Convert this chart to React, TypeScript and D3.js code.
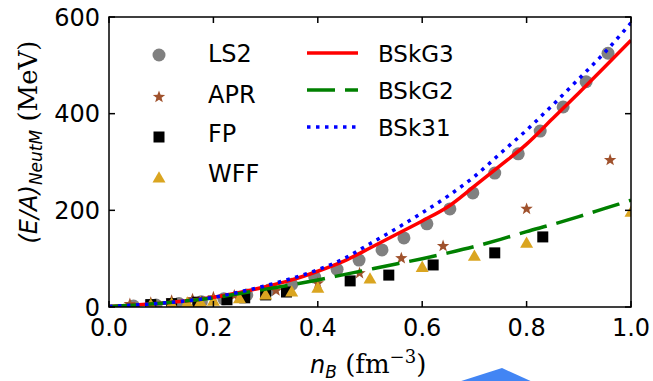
import React from "react";
import * as d3 from "d3";

// ---- data ----
const curveN = [0, 0.05, 0.1, 0.15, 0.2, 0.25, 0.3, 0.35, 0.4, 0.45, 0.5, 0.55, 0.6, 0.65, 0.7, 0.75, 0.8, 0.85, 0.9, 0.95, 1.0];
const bskg3 = [1, 4, 8, 13, 20, 30, 42, 56, 74, 95, 122, 150, 178, 208, 250, 293, 337, 390, 443, 497, 552];
const bskg2 = [1, 4, 8, 13, 19, 28, 37, 46, 56, 67, 78, 89, 100, 112, 125, 140, 156, 171, 187, 204, 221];
const bsk31 = [1, 4, 8, 13, 20, 31, 44, 59, 77, 100, 131, 162, 195, 230, 270, 318, 366, 418, 472, 527, 588];

const ls2N = [0.047, 0.09, 0.134, 0.177, 0.22, 0.264, 0.307, 0.35, 0.394, 0.437, 0.479, 0.523, 0.565, 0.609, 0.653, 0.697, 0.739, 0.784, 0.826, 0.87, 0.914, 0.956];
const ls2E = [2, 4, 7, 11, 17, 25, 35, 47, 62, 78, 97, 118, 143, 172, 203, 236, 277, 317, 364, 414, 466, 525];

const aprN = [0.04, 0.08, 0.12, 0.16, 0.2, 0.24, 0.32, 0.4, 0.48, 0.56, 0.64, 0.8, 0.96];
const aprE = [6, 9, 13, 16, 20, 24, 34, 49, 70, 101, 126, 203, 304];

const fpN = [0.08, 0.12, 0.17, 0.226, 0.26, 0.3, 0.34, 0.462, 0.536, 0.621, 0.739, 0.831];
const fpE = [5, 7, 10, 15, 19, 25, 31, 54, 66, 87, 112, 145];

const wffN = [0.08, 0.12, 0.15, 0.175, 0.2, 0.25, 0.3, 0.35, 0.4, 0.5, 0.6, 0.7, 0.8, 1.0];
const wffE = [4, 6, 8, 10, 12, 17, 25, 31, 39, 58, 82, 105, 132, 196];

const xTicks = [0, 0.2, 0.4, 0.6, 0.8, 1.0];
const xTickLabels = ["0.0", "0.2", "0.4", "0.6", "0.8", "1.0"];
const yTicks = [0, 200, 400, 600];
const yTickLabels = ["0", "200", "400", "600"];

const W = 653, H = 381;
const x = d3.scaleLinear().domain([0, 1]).range([109, 631]);
const y = d3.scaleLinear().domain([0, 600]).range([307, 17]);

const FONT = "DejaVu Sans";
const SERIF = "DejaVu Serif";

function starPath(cx: number, cy: number, ro: number, ri: number) {
  const pts: string[] = [];
  for (let i = 0; i < 10; i++) {
    const r = i % 2 === 0 ? ro : ri;
    const a = -Math.PI / 2 + (i * Math.PI) / 5;
    pts.push(`${cx + r * Math.cos(a)},${cy + r * Math.sin(a)}`);
  }
  return "M" + pts.join("L") + "Z";
}
function triPath(cx: number, cy: number, s: number) {
  const h = s * 0.87;
  return `M${cx},${cy - h * 0.6}L${cx + s / 2},${cy + h * 0.4}L${cx - s / 2},${cy + h * 0.4}Z`;
}

const Circle = ({ cx, cy }: any) => <circle cx={cx} cy={cy} r={6.5} fill="#808080" />;
const Star = ({ cx, cy }: any) => <path d={starPath(cx, cy, 6.5, 2.7)} fill="#a0522d" />;
const Square = ({ cx, cy }: any) => <rect x={cx - 5.5} y={cy - 5.5} width={11} height={11} fill="#000" />;
const Tri = ({ cx, cy }: any) => <path d={triPath(cx, cy, 13)} fill="#daa520" />;

export default function App() {
  const line = (vals: number[]) =>
    d3.line<number>().x((_, i) => x(curveN[i])).y((v) => y(v)).curve(d3.curveMonotoneX)(vals) as string;

  return (
    <svg width={W} height={H} style={{ position: "absolute", left: 0, top: 0, background: "#fff" }}>
      <defs>
        <clipPath id="plot">
          <rect x={109} y={17} width={522} height={290} />
        </clipPath>
      </defs>
      <rect x={0} y={0} width={W} height={H} fill="#fff" />

      {/* scatter */}
      <g clipPath="url(#plot)">
        {ls2N.map((n, i) => <Circle key={"l" + i} cx={x(n)} cy={y(ls2E[i])} />)}
        {aprN.map((n, i) => <Star key={"a" + i} cx={x(n)} cy={y(aprE[i])} />)}
        {fpN.map((n, i) => <Square key={"f" + i} cx={x(n)} cy={y(fpE[i])} />)}
        {wffN.map((n, i) => <Tri key={"w" + i} cx={x(n)} cy={y(wffE[i])} />)}
        <path d={line(bskg3)} fill="none" stroke="#ff0000" strokeWidth={3.5} />
        <path d={line(bskg2)} fill="none" stroke="#008000" strokeWidth={3.5} strokeDasharray="28,10" />
        <path d={line(bsk31)} fill="none" stroke="#0000ff" strokeWidth={3.5} strokeDasharray="3.5,5.5" />
      </g>

      {/* frame */}
      <rect x={109} y={17} width={522} height={290} fill="none" stroke="#000" strokeWidth={1.5} />

      {/* ticks */}
      {xTicks.map((t, i) => (
        <g key={"xt" + i}>
          <line x1={x(t)} x2={x(t)} y1={307} y2={301} stroke="#000" strokeWidth={1.5} />
          <line x1={x(t)} x2={x(t)} y1={17} y2={23} stroke="#000" strokeWidth={1.5} />
          <text x={x(t)} y={336} textAnchor="middle" fontFamily={FONT} fontSize={24} fill="#000">
            {xTickLabels[i]}
          </text>
        </g>
      ))}
      {yTicks.map((t, i) => (
        <g key={"yt" + i}>
          <line x1={109} x2={115} y1={y(t)} y2={y(t)} stroke="#000" strokeWidth={1.5} />
          <line x1={631} x2={625} y1={y(t)} y2={y(t)} stroke="#000" strokeWidth={1.5} />
          <text x={100} y={y(t) + 8.5} textAnchor="end" fontFamily={FONT} fontSize={24} fill="#000">
            {yTickLabels[i]}
          </text>
        </g>
      ))}

      {/* axis labels */}
      <text x={310} y={373} fontSize={24} fill="#000">
        <tspan fontFamily={FONT} fontStyle="italic">n</tspan>
        <tspan fontFamily={FONT} fontStyle="italic" fontSize={17} dy={5}>B</tspan>
        <tspan fontFamily={SERIF} fontSize={26} dy={-5}>{" (fm"}</tspan>
        <tspan fontFamily={SERIF} fontSize={18} dy={-10}>{"\u22123"}</tspan>
        <tspan fontFamily={SERIF} fontSize={26} dy={10}>)</tspan>
      </text>
      <text transform="translate(37,142) rotate(-90)" textAnchor="middle" fontSize={24} fill="#000">
        <tspan fontFamily={FONT} fontStyle="italic">(E/A)</tspan>
        <tspan fontFamily={FONT} fontStyle="italic" fontSize={17} dy={5}>NeutM</tspan>
        <tspan fontFamily={SERIF} fontSize={26} dy={-5}>{" (MeV)"}</tspan>
      </text>

      {/* legend column 1 */}
      <Circle cx={159} cy={55} />
      <Star cx={159} cy={97} />
      <Square cx={159} cy={137} />
      <Tri cx={159} cy={178} />
      {["LS2", "APR", "FP", "WFF"].map((s, i) => (
        <text key={s} x={208} y={[53, 94, 133, 173][i] + 9} fontFamily={FONT} fontSize={24} fill="#000">{s}</text>
      ))}
      {/* legend column 2 */}
      <line x1={307} x2={358} y1={53} y2={53} stroke="#ff0000" strokeWidth={3.5} />
      <line x1={307} x2={358} y1={90} y2={90} stroke="#008000" strokeWidth={3.5} strokeDasharray="28,10" />
      <line x1={307} x2={358} y1={127} y2={127} stroke="#0000ff" strokeWidth={3.5} strokeDasharray="3.5,5.5" />
      {["BSkG3", "BSkG2", "BSk31"].map((s, i) => (
        <text key={s} x={378} y={[53, 90, 127][i] + 8.5} fontFamily={FONT} fontSize={23} fill="#000">{s}</text>
      ))}

      {/* partial blue shape at the bottom edge */}
      <polygon points="455,383 502,368 535,383" fill="#4285f4" />
    </svg>
  );
}
